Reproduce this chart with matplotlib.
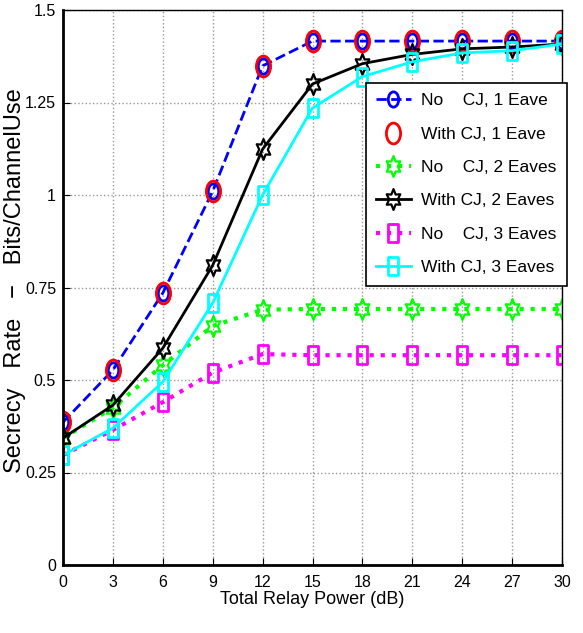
import matplotlib
matplotlib.use("Agg")
import matplotlib.pyplot as plt
from matplotlib.path import Path
from matplotlib.transforms import Affine2D

plt.rcParams['font.family'] = ['Liberation Sans', 'DejaVu Sans']

# data
power_db = [0, 3, 6, 9, 12, 15, 18, 21, 24, 27, 30]
no_cj_1 = [0.386, 0.527, 0.735, 1.01, 1.349, 1.416, 1.416, 1.416, 1.416, 1.416, 1.416]
cj_1 = [0.386, 0.527, 0.735, 1.01, 1.349, 1.416, 1.416, 1.416, 1.416, 1.416, 1.416]
no_cj_2 = [0.343, 0.425, 0.54, 0.646, 0.69, 0.692, 0.692, 0.692, 0.692, 0.692, 0.692]
cj_2 = [0.343, 0.432, 0.586, 0.81, 1.124, 1.30, 1.355, 1.38, 1.395, 1.40, 1.408]
no_cj_3 = [0.297, 0.365, 0.44, 0.52, 0.57, 0.567, 0.567, 0.567, 0.567, 0.567, 0.567]
cj_3 = [0.297, 0.37, 0.495, 0.708, 1.0, 1.235, 1.32, 1.36, 1.384, 1.39, 1.408]

xticks = [0, 3, 6, 9, 12, 15, 18, 21, 24, 27, 30]
yticks = [0, 0.25, 0.5, 0.75, 1, 1.25, 1.5]
ytick_labels = ['0', '0.25', '0.5', '0.75', '1', '1.25', '1.5']

# the original export is stretched vertically, so markers look tall
ellipse = Path.unit_circle().transformed(Affine2D().scale(0.68, 1.0))
hexstar = Path.unit_regular_star(6, 0.55).transformed(Affine2D().scale(0.75, 1.0))
tall_sq = Path.unit_rectangle().transformed(Affine2D().translate(-0.5, -0.5).scale(0.6, 1.0))

fig = plt.figure(figsize=(5.83, 6.33), dpi=100)
ax = fig.add_axes([63 / 583, 1 - 565 / 633, (562 - 63) / 583, (565 - 10) / 633])

ax.plot(power_db, no_cj_1, color='blue', ls='--', lw=2, marker=ellipse, ms=11,
        mfc='none', mew=2, label='No    CJ, 1 Eave')
ax.plot(power_db, cj_1, color='red', ls='none', marker=ellipse, ms=15,
        mfc='none', mew=2, label='With CJ, 1 Eave')
ax.plot(power_db, no_cj_2, color='#00ff00', ls=':', lw=3, marker=hexstar, ms=15,
        mfc='none', mew=1.6, label='No    CJ, 2 Eaves')
ax.plot(power_db, cj_2, color='black', ls='-', lw=2, marker=hexstar, ms=15,
        mfc='none', mew=1.6, label='With CJ, 2 Eaves')
ax.plot(power_db, no_cj_3, color='magenta', ls=':', lw=3, marker=tall_sq, ms=13,
        mfc='none', mew=2, label='No    CJ, 3 Eaves')
ax.plot(power_db, cj_3, color='cyan', ls='-', lw=2, marker=tall_sq, ms=13,
        mfc='none', mew=2, label='With CJ, 3 Eaves')

ax.set_xlim(0, 30)
ax.set_ylim(0, 1.5)
ax.set_xticks(xticks)
ax.set_yticks(yticks)
ax.set_yticklabels(ytick_labels)
ax.tick_params(direction='in', labelsize=11.5, length=5, pad=5)
ax.tick_params(axis='x', pad=7)
ax.grid(True, ls=':', color='#999999', lw=1)
for side in ['left', 'bottom']:
    ax.spines[side].set_linewidth(2)
for side in ['top', 'right']:
    ax.spines[side].set_linewidth(1)

ax.set_xlabel('Total Relay Power (dB)', fontsize=13, labelpad=1)
ax.set_ylabel('Secrecy   Rate   \u2212   Bits/ChannelUse', fontsize=17)
ax.yaxis.set_label_coords(-0.075, 0.512)

leg = ax.legend(loc='upper right', bbox_to_anchor=(1.01, 0.869), borderaxespad=0,
                fontsize=12.5, fancybox=False, edgecolor='black', framealpha=1,
                handlelength=2.0, labelspacing=1.05, borderpad=0.6,
                handletextpad=0.6)
leg.get_frame().set_linewidth(1.2)

fig.savefig('out.png', dpi=100)
